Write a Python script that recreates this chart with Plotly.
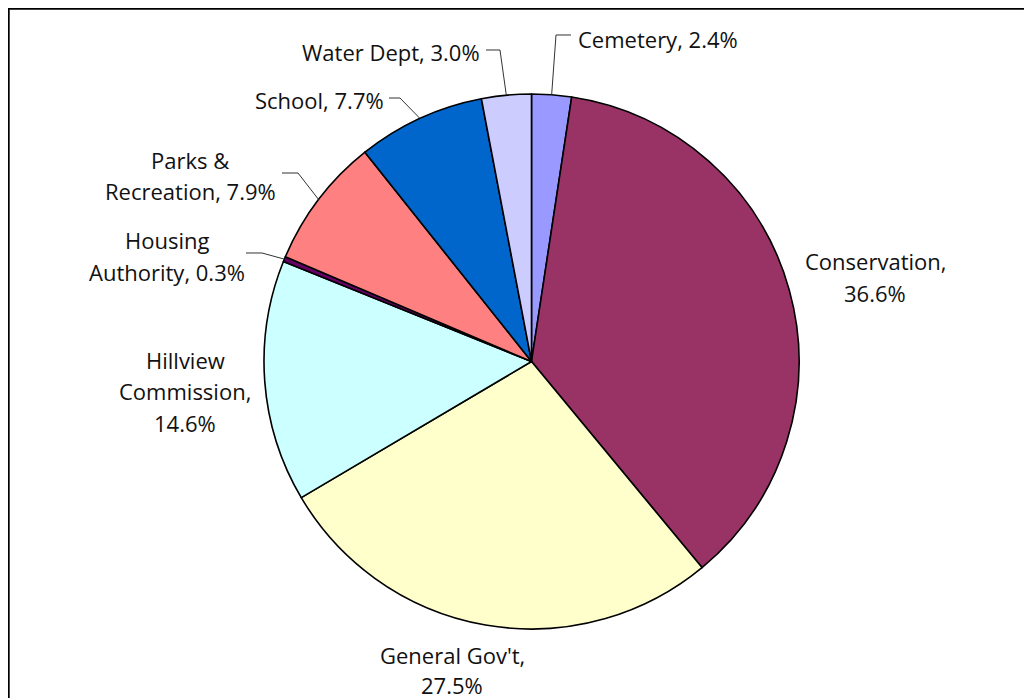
import math
import plotly.graph_objects as go

# ---- data ----
categories = ["Cemetery", "Conservation", "General Gov't", "Hillview Commission",
              "Housing Authority", "Parks & Recreation", "School", "Water Dept"]
shares = [2.4, 36.6, 27.5, 14.6, 0.3, 7.9, 7.7, 3.0]
label_lines = [
    ["Cemetery, 2.4%"],
    ["Conservation,", "36.6%"],
    ["General Gov't,", "27.5%"],
    ["Hillview", "Commission,", "14.6%"],
    ["Housing", "Authority, 0.3%"],
    ["Parks &", "Recreation, 7.9%"],
    ["School, 7.7%"],
    ["Water Dept, 3.0%"],
]
colors = ["#9999FF", "#993366", "#FFFFCC", "#CCFFFF", "#660066", "#FF8080", "#0066CC", "#CCCCFF"]

# ---- layout (page pixels; page body has an 8px margin) ----
W, H = 1032, 698
OFF = 8
CX, CY, R = 531.5, 361.5, 267.5
LINE_H = 31.5
FONT = dict(family="Open Sans, Liberation Sans, sans-serif", size=22, color="#111111")

# label placement: (anchor x, first line center y, xanchor, leader elbow pts or None, line height)
label_pos = {
    "Cemetery": (576, 39, "left", [(556, 35), (571, 35)], LINE_H),
    "Conservation": (875, 261, "center", None, LINE_H),
    "General Gov't": (452, 655, "center", None, 30),
    "Hillview Commission": (185, 360, "center", None, LINE_H),
    "Housing Authority": (167, 240, "center", [(262, 253), (246, 253)], LINE_H),
    "Parks & Recreation": (190, 160, "center", [(298, 173), (282, 173)], LINE_H),
    "School": (386, 100, "right", [(400, 98), (389, 98)], LINE_H),
    "Water Dept": (482, 52, "right", [(500, 50), (486, 50)], LINE_H),
}


def px(x):
    return (x - OFF) / W


def py(y):
    return 1 - (y - OFF) / H


fig = go.Figure(go.Pie(
    labels=categories,
    values=shares,
    sort=False,
    direction="clockwise",
    rotation=0,
    textinfo="none",
    hoverinfo="label+percent",
    marker=dict(colors=colors, line=dict(color="black", width=1.6)),
    domain=dict(x=[px(CX - R), px(CX + R)], y=[py(CY + R), py(CY - R)]),
    showlegend=False,
))

annotations = []
shapes = []
total = sum(shares)
cum = 0.0
for name, v, lines in zip(categories, shares, label_lines):
    mid = 2 * math.pi * (cum + v / 2) / total
    cum += v
    ax, ay, xanchor, leader, lh = label_pos[name]
    for i, t in enumerate(lines):
        annotations.append(dict(
            x=px(ax), y=py(ay + i * lh), xref="paper", yref="paper",
            text=t, showarrow=False, xanchor=xanchor, yanchor="middle", font=FONT,
        ))
    if leader:
        ex = CX + R * math.sin(mid)
        ey = CY - R * math.cos(mid)
        pts = [(ex, ey)] + leader
        path = "M " + " L ".join(f"{px(x):.5f},{py(y):.5f}" for x, y in pts)
        shapes.append(dict(type="path", path=path, xref="paper", yref="paper",
                           line=dict(color="#333333", width=1)))

# outer chart frame (extends past right and bottom edges)
shapes.append(dict(type="rect", xref="paper", yref="paper",
                   x0=px(8.5), x1=px(W + 40), y0=py(H + 40), y1=py(8.5),
                   line=dict(color="black", width=2.4), fillcolor="rgba(0,0,0,0)"))

fig.update_layout(
    width=W, height=H,
    margin=dict(l=0, r=0, t=0, b=0),
    paper_bgcolor="white", plot_bgcolor="white",
    annotations=annotations, shapes=shapes,
)

fig.write_html("out.html")
